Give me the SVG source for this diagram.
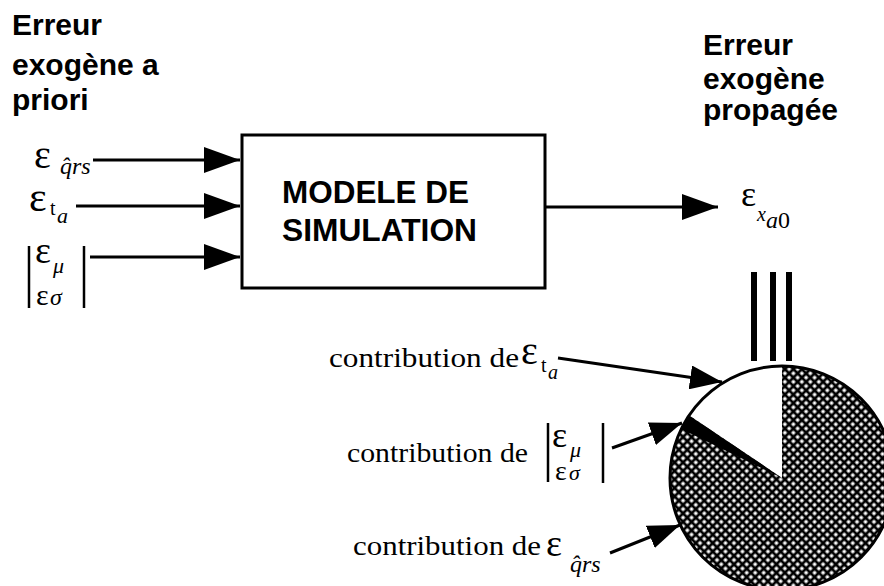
<svg xmlns="http://www.w3.org/2000/svg" width="884" height="586" viewBox="0 0 884 586">
<style>
.title{font-family:"Liberation Sans",Arial,sans-serif;font-weight:bold;font-size:30px;fill:#000}
.box{font-family:"Liberation Sans",Arial,sans-serif;font-weight:bold;font-size:31px;fill:#000}
.lab{font-family:"Liberation Serif","Times New Roman",serif;font-size:28px;fill:#000}
.gr{font-family:"Liberation Serif","Times New Roman",serif;fill:#000}
.it{font-style:italic}
.ln{stroke:#000;stroke-width:3;fill:none}
.bar{stroke:#000;stroke-width:2.5;fill:none}
</style>
<defs>
<marker id="ah" viewBox="0 0 36 26" refX="36" refY="13" markerWidth="36" markerHeight="26" markerUnits="userSpaceOnUse" orient="auto"><path d="M0,0 L36,13 L0,26 z" fill="#000"/></marker>
<marker id="ah2" viewBox="0 0 32 24" refX="32" refY="12" markerWidth="32" markerHeight="24" markerUnits="userSpaceOnUse" orient="auto"><path d="M0,0 L32,12 L0,24 z" fill="#000"/></marker>
<pattern id="hatch" width="6" height="6" patternUnits="userSpaceOnUse" patternTransform="rotate(45)">
<rect width="6" height="6" fill="#000"/>
<rect x="1.4" y="1.4" width="3.2" height="3.2" fill="#fff"/>
</pattern>
</defs>
<rect width="884" height="586" fill="#fff"/>

<g id="title-left">
<text class="title" x="12" y="35">Erreur</text>
<text class="title" x="12" y="75">exogène a</text>
<text class="title" x="12" y="110">priori</text>
</g>
<g id="title-right">
<text class="title" x="703" y="55">Erreur</text>
<text class="title" x="703" y="89">exogène</text>
<text class="title" x="703" y="120">propagée</text>
</g>

<g id="input-q">
<text class="gr" x="34" y="168" font-size="40">ε</text>
<text class="gr it" x="60" y="174" font-size="24">q̂rs</text>
</g>
<g id="input-t">
<text class="gr" x="29" y="211" font-size="42">ε</text>
<text class="gr" x="50" y="215" font-size="20">t</text>
<text class="gr it" x="57" y="223" font-size="22">a</text>
</g>
<g id="input-mu">
<line class="bar" x1="29" y1="246" x2="29" y2="308"/>
<line class="bar" x1="84" y1="246" x2="84" y2="308"/>
<text class="gr" x="35" y="263" font-size="38">ε</text>
<text class="gr it" x="53" y="273" font-size="22">μ</text>
<text class="gr" x="36" y="305" font-size="30">ε</text>
<text class="gr it" x="50" y="305" font-size="24">σ</text>
</g>

<g id="model">
<rect x="242" y="135" width="303" height="153" fill="#fff" stroke="#000" stroke-width="3"/>
<text class="box" x="282" y="203" textLength="187" lengthAdjust="spacingAndGlyphs">MODELE DE</text>
<text class="box" x="282" y="241" textLength="195" lengthAdjust="spacingAndGlyphs">SIMULATION</text>
</g>

<g id="output">
<text class="gr" x="741" y="206" font-size="36">ε</text>
<text class="gr it" x="757" y="221" font-size="20">x<tspan dy="7" font-size="24">a</tspan><tspan font-style="normal" font-size="24">0</tspan></text>
</g>

<g id="pie">
<rect x="751" y="272" width="6" height="89" fill="#000"/>
<rect x="770" y="272" width="6" height="89" fill="#000"/>
<rect x="786" y="272" width="6" height="89" fill="#000"/>
<circle cx="782" cy="478" r="112" fill="url(#hatch)"/>
<path d="M782,478 L782,366 A112,112 0 0 0 689.2,415.4 Z" fill="#fff"/>
<path d="M782,478 L689.2,415.4 A112,112 0 0 0 681.3,428.9 Z" fill="#000"/>
<circle cx="782" cy="478" r="112" fill="none" stroke="#000" stroke-width="3"/>
</g>

<g id="contrib-t">
<text class="lab" x="329" y="367" textLength="190" lengthAdjust="spacingAndGlyphs">contribution de</text>
<text class="gr" x="521" y="364" font-size="40">ε</text>
<text class="gr" x="541" y="372" font-size="20">t</text>
<text class="gr it" x="548" y="379" font-size="20">a</text>
</g>
<g id="contrib-mu">
<text class="lab" x="347" y="462" textLength="181" lengthAdjust="spacingAndGlyphs">contribution de</text>
<line class="bar" x1="548" y1="423" x2="548" y2="482"/>
<line class="bar" x1="603" y1="423" x2="603" y2="483"/>
<text class="gr" x="552" y="447" font-size="36">ε</text>
<text class="gr it" x="570" y="457" font-size="22">μ</text>
<text class="gr" x="555" y="480" font-size="28">ε</text>
<text class="gr it" x="569" y="480" font-size="22">σ</text>
</g>
<g id="contrib-q">
<text class="lab" x="353" y="555" textLength="188" lengthAdjust="spacingAndGlyphs">contribution de</text>
<text class="gr" x="546" y="556" font-size="38">ε</text>
<text class="gr it" x="570" y="572" font-size="24">q̂rs</text>
</g>

<g id="connectors">
<line class="ln" x1="93" y1="160" x2="240" y2="160" marker-end="url(#ah)"/>
<line class="ln" x1="76" y1="206" x2="240" y2="206" marker-end="url(#ah)"/>
<line class="ln" x1="90" y1="257" x2="240" y2="257" marker-end="url(#ah)"/>
<line class="ln" x1="545" y1="207" x2="718" y2="207" marker-end="url(#ah)"/>
<line class="ln" x1="558" y1="358" x2="722" y2="382" marker-end="url(#ah2)"/>
<line class="ln" x1="612" y1="448" x2="682" y2="423" marker-end="url(#ah2)"/>
<line class="ln" x1="610" y1="553" x2="680" y2="525" marker-end="url(#ah2)"/>
</g>
</svg>
